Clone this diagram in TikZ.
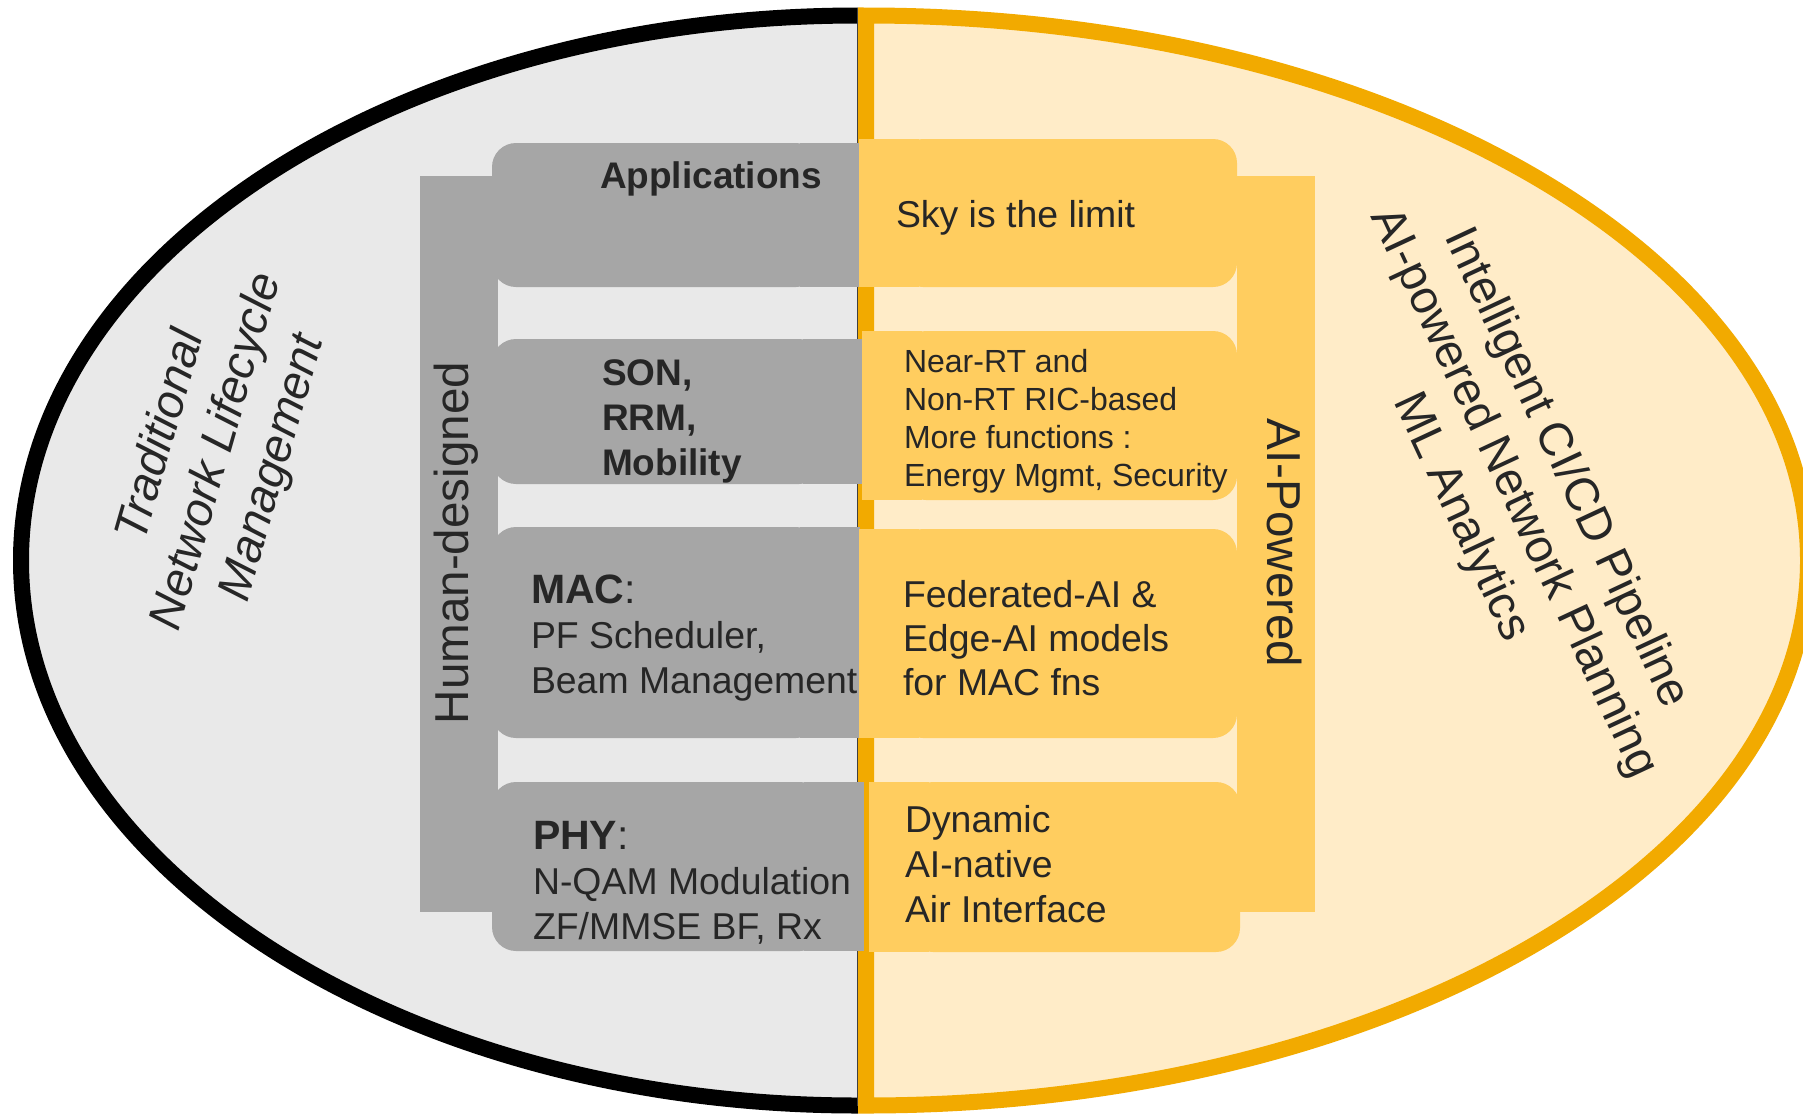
\documentclass[tikz,border=0pt]{standalone}
\usepackage{fontspec}
\setmainfont{Liberation Sans}

\definecolor{leftfill}{HTML}{E9E9E9}
\definecolor{rightfill}{HTML}{FFECC8}
\definecolor{ring}{HTML}{F2AA00}
\definecolor{slate}{HTML}{A6A6A6}
\definecolor{honey}{HTML}{FFCD5F}
\definecolor{ink}{HTML}{262626}

\newcommand\fsz[2]{\fontsize{#1}{#2}\selectfont}

% grey layer box: rounded on the left, square on the right
\newcommand\humanbox[4]{%
  \fill[slate, rounded corners=12pt] (#1,#2) rectangle (#3-40,#4);
  \fill[slate] (#3-60,#2) rectangle (#3,#4);}
% yellow layer box: square on the left, rounded on the right
\newcommand\aibox[4]{%
  \fill[honey] (#1,#2) rectangle (#1+60,#4);
  \fill[honey, rounded corners=12pt] (#1+40,#2) rectangle (#3,#4);}

\begin{document}
\begin{tikzpicture}[x=0.5pt, y=-0.5pt,
  % multi-line texts are placed by the baseline of their last line
  txt/.style={inner sep=0pt, outer sep=0pt, text=ink, align=left, anchor=base west},
  sidetxt/.style={inner sep=0pt, outer sep=0pt, text=ink, align=center, font=\fsz{23.5}{29}},
  bartxt/.style={inner sep=0pt, outer sep=0pt, text=ink, anchor=base, font=\fsz{23.8}{28}}]

\clip (0,0) rectangle (1803,1114);
\fill[white] (0,0) rectangle (1803,1114);

% traditional half: grey fill, black rim
\fill[leftfill] (858,15.5) arc[start angle=90, end angle=270, x radius=418.5pt, y radius=272.5pt] -- cycle;
\draw[black, line width=8pt] (858,15.5) arc[start angle=90, end angle=270, x radius=418.5pt, y radius=272.5pt];

% AI half: cream fill, orange rim
\filldraw[fill=rightfill, draw=ring, line width=8pt] (866,15.5) arc[start angle=90, end angle=-90, x radius=471pt, y radius=272.5pt] -- cycle;
\draw[line width=0.6pt, black!75] (857.6,8) -- (857.6,1106);

% vertical bars
\fill[slate] (420,176) rectangle (498,912);
\fill[honey] (1237,176) rectangle (1315,912);

% layer boxes
\humanbox{492}{143}{860}{287}
\humanbox{492}{339}{863}{484}
\humanbox{492}{527}{860}{738}
\humanbox{492}{782}{864}{951}

\aibox{859}{139}{1237}{287}
\aibox{862}{331}{1237}{500}
\aibox{859}{529}{1237}{738}
\aibox{869}{782}{1240}{952}

% texts of the human-designed layers
\node[txt, font=\fsz{18.5}{22.5}\bfseries] (apps) at (600,188) {Applications};
\node[txt, font=\fsz{18.5}{22.5}\bfseries] (son) at (602,475) {SON,\\RRM,\\Mobility};
\node[txt, font=\fsz{18.7}{22.5}] (mac) at (531,693) {{\fsz{20.5}{22.5}\textbf{MAC}:}\\PF Scheduler,\\Beam Management};
\node[txt, font=\fsz{18.7}{22.5}] (phy) at (533,939) {{\fsz{20.5}{22.5}\textbf{PHY}:}\\N-QAM Modulation\\ZF/MMSE BF, Rx};

% texts of the AI-powered layers
\node[txt, font=\fsz{18.7}{21}] (sky) at (896,227) {Sky is the limit};
\node[txt, font=\fsz{16}{19}] (ric) at (904,486) {Near-RT and\\Non-RT RIC-based\\More functions :\\Energy Mgmt, Security};
\node[txt, font=\fsz{18.7}{22}] (fed) at (903,695) {Federated-AI \&\\Edge-AI models\\for MAC fns};
\node[txt, font=\fsz{18.7}{22.5}] (dyn) at (905,922) {Dynamic\\AI-native\\Air Interface};

% bar labels
\node[bartxt, rotate=90] (human) at (468,543) {Human-designed};
\node[bartxt, rotate=-90] (aipow) at (1267,543) {AI-Powered};

% side labels
\node[sidetxt, rotate=74, font=\fsz{23.5}{29}\itshape] (trad) at (218,452) {Traditional\\Network Lifecycle\\Management};
\node[sidetxt, rotate=-65] (pipe) at (1513,493) {Intelligent CI/CD Pipeline\\AI-powered Network Planning\\ML Analytics};

\end{tikzpicture}
\end{document}
